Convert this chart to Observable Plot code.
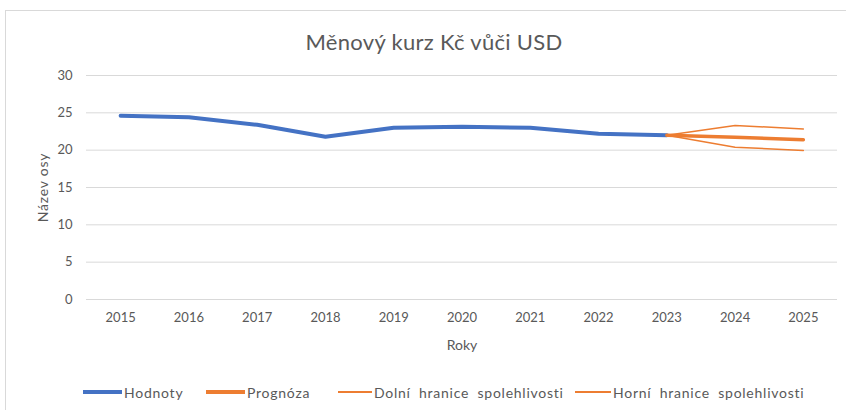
<!DOCTYPE html>
<html><head><meta charset="utf-8">
<script src="https://cdn.jsdelivr.net/npm/d3@7"></script>
<script src="https://cdn.jsdelivr.net/npm/@observablehq/plot@0.6"></script>
<style>
body{margin:0;background:#fff;font-family:Lato,"Open Sans",sans-serif;}
#wrap{position:relative;width:846px;height:410px;overflow:hidden;background:#fff;}
#box{position:absolute;left:5px;top:10px;width:870px;height:430px;border:1px solid #d9d9d9;box-sizing:border-box;}
#chart{position:absolute;left:0;top:0;}
#title{position:absolute;left:0;width:868px;top:30px;line-height:24px;text-align:center;font-size:22px;letter-spacing:0.3px;color:#595959;}
#legend{position:absolute;left:0;top:383px;width:846px;height:18px;font-size:14px;color:#595959;letter-spacing:0.75px;word-spacing:4px;white-space:nowrap;}
#legend .item{position:absolute;top:0;display:flex;align-items:center;height:18px;}
#legend .sw{margin-right:2px;}
</style></head><body>
<div id="wrap"><div id="box"></div><div id="chart"></div><div id="title">Měnový kurz Kč vůči USD</div><div id="legend"></div></div>
<script>
// Data
const years = [2015, 2016, 2017, 2018, 2019, 2020, 2021, 2022, 2023, 2024, 2025];
const hodnotyYears = [2015, 2016, 2017, 2018, 2019, 2020, 2021, 2022, 2023];
const hodnoty = [24.6, 24.42, 23.4, 21.8, 23.0, 23.15, 23.0, 22.2, 22.0];
const prognozaYears = [2023, 2024, 2025];
const prognoza = [22.0, 21.72, 21.4];
const dolni = [22.0, 20.4, 19.95];
const horni = [22.0, 23.3, 22.85];
const yTicks = [0, 5, 10, 15, 20, 25, 30];
const seriesNames = ["Hodnoty", "Prognóza", "Dolní hranice spolehlivosti", "Horní hranice spolehlivosti"];
const seriesColors = ["#4472C4", "#ED7D31", "#ED7D31", "#ED7D31"];
const seriesWidths = [4, 3.5, 1.5, 1.5];

// Layout (legend item placement)
const legendLeft = [83, 206, 338, 575];
const legendSwatch = [39, 39, 34, 36];

const toRows = (xs, ys) => xs.map((x, i) => ({x, y: ys[i]}));

const chart = Plot.plot({
  width: 846,
  height: 410,
  marginLeft: 86,
  marginRight: 9,
  marginTop: 75,
  marginBottom: 111,
  style: {fontFamily: "Lato, 'Open Sans', sans-serif", fontSize: "13px", color: "#595959", background: "transparent"},
  x: {domain: [2014.5, 2025.5], ticks: years, tickFormat: d => String(d), tickSize: 0, tickPadding: 13,
      label: "Roky", labelAnchor: "center", labelOffset: 50, labelArrow: "none"},
  y: {domain: [0, 30], ticks: yTicks, tickSize: 0, tickPadding: 14,
      label: "Název osy", labelAnchor: "center", labelOffset: 48, labelArrow: "none"},
  marks: [
    Plot.ruleY(yTicks, {stroke: "#d9d9d9", strokeWidth: 1, strokeOpacity: 1}),
    Plot.line(toRows(hodnotyYears, hodnoty), {x: "x", y: "y", stroke: seriesColors[0], strokeWidth: seriesWidths[0], strokeLinecap: "round", strokeLinejoin: "round"}),
    Plot.line(toRows(prognozaYears, dolni), {x: "x", y: "y", stroke: seriesColors[2], strokeWidth: seriesWidths[2], strokeLinejoin: "round"}),
    Plot.line(toRows(prognozaYears, horni), {x: "x", y: "y", stroke: seriesColors[3], strokeWidth: seriesWidths[3], strokeLinejoin: "round"}),
    Plot.line(toRows(prognozaYears, prognoza), {x: "x", y: "y", stroke: seriesColors[1], strokeWidth: seriesWidths[1], strokeLinecap: "round", strokeLinejoin: "round"})
  ]
});
// enlarge the axis titles slightly
chart.querySelectorAll("text").forEach(t => {
  if (t.textContent === "Název osy") { t.setAttribute("font-size", "14"); t.style.letterSpacing = "0.8px"; }
  if (t.textContent === "Roky") { t.setAttribute("font-size", "14"); }
});
document.getElementById("chart").appendChild(chart);

const legend = document.getElementById("legend");
seriesNames.forEach((name, i) => {
  const item = document.createElement("div");
  item.className = "item";
  item.style.left = legendLeft[i] + "px";
  const sw = document.createElement("div");
  sw.className = "sw";
  sw.style.width = legendSwatch[i] + "px";
  sw.style.height = seriesWidths[i] + "px";
  sw.style.background = seriesColors[i];
  const t = document.createElement("span");
  t.textContent = name;
  item.appendChild(sw); item.appendChild(t);
  legend.appendChild(item);
});
</script>
</body></html>
